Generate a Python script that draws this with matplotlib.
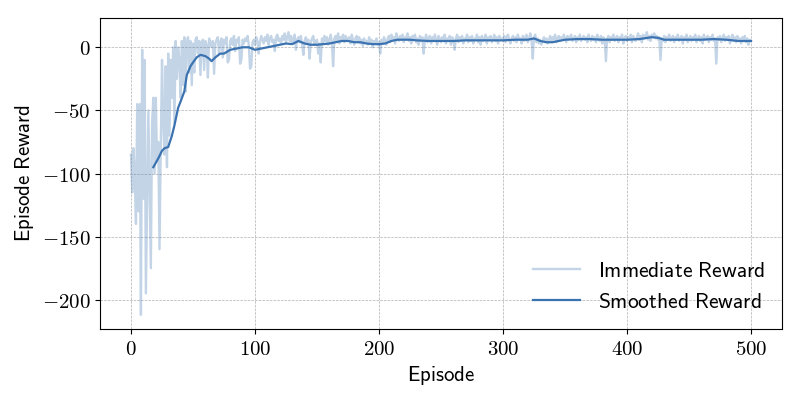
import numpy as np
import matplotlib
matplotlib.use('Agg')
import matplotlib.pyplot as plt
from matplotlib.ticker import FuncFormatter

plt.rcParams['mathtext.fontset'] = 'cm'

# immediate reward per episode, 0..500
immediate_reward = [
    -85, -115, -80, -100, -140, -45, -130, -45, -212, -2, -120, -10, -195, -120, -50, -110, -175, -60, -40, -100, -40, -90, -75, -160, -80,
    -10, -60, -85, -15, -95, -5, -70, -10, -40, 0, -60, 5, -25, 0, -10, -40, 5, -30, 8, -35, 3, 8, -20, 5, -30,
    3, -20, 6, 8, -5, 5, -22, 4, 6, -18, 5, 2, -24, 7, 4, 0, 5, -21, 3, 6, 8, -5, 4, 7, -8,
    6, 3, 8, -12, -10, 5, 7, 2, 9, -3, 6, 4, 8, -13, -10, 6, 3, 7, 5, 9, 2, -17, -15, 4, 6,
    2, 8, 5, -5, 4, 9, 6, 3, 8, 5, 10, 2, 7, 9, 4, 6, -3, 8, 10, 5, 7, 3, 9, 6, 11,
    4, 8, 12, 5, 9, 3, 7, 10, -2, 6, 8, 4, 9, 2, -6, 5, 8, 3, 6, -9, 4, 7, 9, 2, 5,
    6, -5, 3, -12, 7, 4, 9, 5, 8, 2, 6, 10, 4, -15, 7, 9, 5, 11, 3, 8, 6, 10, 4, 9, 7,
    5, 8, 3, 10, 6, 2, 7, 9, 4, 8, 3, 6, 1, 7, 4, 5, 2, 8, 3, 6, 0, 5, 3, 7, 2,
    4, -5, 6, 3, 8, 5, 2, 7, 9, 4, 10, 6, 8, 3, 11, 7, 5, 9, 6, 10, 4, 8, 7, 11, 5,
    8, 3, 9, 6, 10, 4, 7, 2, 9, 5, 8, -5, 6, 10, 4, 7, 9, 3, 8, 5, 10, 6, 2, 9, 7,
    4, 8, 6, 10, 3, 7, 5, 9, 2, 8, 6, -2, 7, 10, 4, 8, 5, 9, 3, 7, 6, 10, 4, 8, 5,
    9, 3, 7, 6, 10, 4, 8, 2, 9, 5, 7, 10, 3, 8, 6, 9, 4, 7, 10, 5, 8, 3, 9, 6, 7,
    5, 9, 4, 8, 10, 6, 3, 7, 9, 5, 8, 4, 10, 6, 7, 3, 9, 5, 8, 10, 4, 7, 11, 6, -9,
    8, 10, 4, 7, 3, 6, 2, 5, 8, 4, 7, 3, 6, 9, 5, 8, 6, 10, 4, 7, 9, 5, 8, 6, 10,
    7, 4, 9, 6, 8, 10, 5, 7, 9, 4, 8, 6, 10, 5, 7, 9, 6, 8, 4, 10, 7, 5, 9, 6, 8,
    4, 10, 7, 5, 9, 3, 8, 6, -11, 7, 9, 4, 8, 6, 10, 5, 7, 9, 4, 8, 6, 10, 3, 7, 9,
    5, 8, 6, 10, 4, 9, 7, 5, 8, 11, 6, 9, 4, 10, 7, 8, 12, 6, 9, 5, 10, 8, 11, 7, 9,
    6, 8, -10, 7, 5, 9, 4, 8, 6, 10, 5, 7, 9, 4, 8, 6, 10, 5, 7, 9, 3, 8, 6, 10, 4,
    7, 9, 5, 8, 6, 10, 4, 7, 9, 5, 8, 3, 10, 6, 7, 9, 4, 8, 6, 10, 5, 7, -13, 8, 6,
    9, 4, 7, 10, 5, 8, 6, 9, 3, 7, 10, 5, 8, 4, 9, 6, 7, 3, 8, 5, 9, 4, 7, 2, 6, 5,
]
episodes = np.arange(len(immediate_reward))

# smoothed reward
smooth_ep = [18, 22, 25, 27, 30, 33, 35, 38, 40, 43, 45, 48, 50, 53, 56, 60, 63, 65, 68, 72,
             75, 80, 85, 90, 95, 100, 105, 110, 115, 120, 125, 130, 135, 140, 145, 150, 155,
             160, 165, 170, 175, 180, 185, 190, 195, 200, 205, 210, 215, 220, 225, 230, 240,
             250, 260, 270, 280, 290, 300, 310, 320, 325, 330, 335, 340, 350, 360, 370, 380,
             390, 400, 410, 420, 425, 430, 440, 450, 460, 470, 480, 490, 500]
smooth_val = [-95, -88, -82, -80, -79, -70, -62, -48, -43, -35, -22, -15, -12, -8, -6, -7, -9, -11, -8, -5,
              -5, -2, -1, 0, 0, -2, -1, 0, 1, 2, 3, 2.5, 5, 3, 2, 2, 2.5,
              3, 4, 5, 5, 4, 4, 3, 2.5, 2.5, 3, 5, 6, 6, 6, 5.5, 5,
              5, 5, 5.5, 5.5, 5.5, 5.5, 6, 6, 7, 5, 4, 4, 6, 6.5, 6.5, 6,
              6, 6, 6.5, 8, 7.5, 6, 6, 6, 6, 6.5, 6, 5, 5]

fig, ax = plt.subplots(figsize=(8, 4), dpi=100)
fig.subplots_adjust(left=0.125, right=0.9775, top=0.955, bottom=0.1775)

ax.plot(episodes, immediate_reward, color='#3b73b1', alpha=0.3, lw=1.7,
        label=r'$\mathsf{Immediate\ Reward}$')
ax.plot(smooth_ep, smooth_val, color='#3b73b1', lw=1.6,
        label=r'$\mathsf{Smoothed\ Reward}$')

ax.grid(True, linestyle='--', linewidth=0.5, color='#b0b0b0')
ax.set_xticks([0, 100, 200, 300, 400, 500])
ax.set_yticks([-200, -150, -100, -50, 0])
fmt = FuncFormatter(lambda v, p: r'$%d$' % v)
ax.xaxis.set_major_formatter(fmt)
ax.yaxis.set_major_formatter(fmt)
ax.tick_params(labelsize=15)
ax.set_xlabel(r'$\mathsf{Episode}$', fontsize=15)
ax.set_ylabel(r'$\mathsf{Episode\ Reward}$', fontsize=15)
ax.legend(loc='lower right', frameon=False, fontsize=15.5, handlelength=2.2,
          borderaxespad=0.4)

fig.savefig('out.png')
